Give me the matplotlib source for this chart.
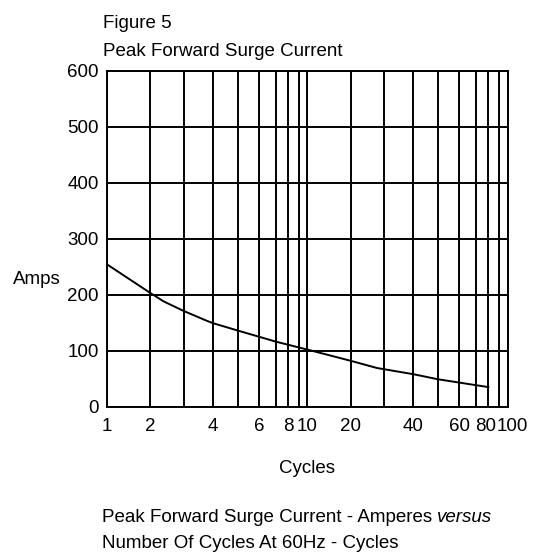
import matplotlib
matplotlib.use("Agg")
import matplotlib.pyplot as plt
import matplotlib.transforms as mtransforms
import numpy as np

plt.rcParams['font.family'] = ['Liberation Sans', 'DejaVu Sans']

# surge curve
cycles = [1, 2, 2.4, 3, 3.8, 4, 5, 6, 7, 10, 20, 28, 40, 50, 80]
amps = [254, 203, 188, 171, 153, 149, 136, 125, 116, 102, 82, 69, 58, 49, 35]

x_major = [1, 2, 4, 6, 8, 10, 20, 40, 60, 80, 100]
x_major_labels = ['1', '2', '4', '6', '8', '10', '20', '40', '60', '80', '100']
x_minor = [3, 5, 7, 9, 30, 50, 70, 90]
y_ticks = [0, 100, 200, 300, 400, 500, 600]

# the printed chart paper is not a true log scale; spacing inside a decade
mant_pts = [1, 2, 3, 4, 5, 6, 7, 8, 9, 10]
frac_pts = [0, 0.216, 0.382, 0.53, 0.652, 0.758, 0.844, 0.904, 0.958, 1.0]


def fwd(v):
    v = np.clip(np.asarray(v, dtype=float), 1e-6, None)
    d = np.floor(np.log10(v) + 1e-12)
    m = v / 10.0 ** d
    return d + np.interp(m, mant_pts, frac_pts)


def inv(u):
    u = np.asarray(u, dtype=float)
    d = np.floor(u + 1e-12)
    f = u - d
    return 10.0 ** d * np.interp(f, frac_pts, mant_pts)


fig = plt.figure(figsize=(5.33, 5.56), dpi=100)
ax = fig.add_axes([0.2008, 0.2685, 0.7515, 0.6047])

ax.set_xscale('function', functions=(fwd, inv))
ax.set_xlim(1, 100)
ax.set_ylim(0, 600)

ax.plot(cycles, amps, color='black', lw=1.4)

ax.set_xticks(x_major)
ax.set_xticklabels(x_major_labels)
ax.set_xticks(x_minor, minor=True)
ax.set_yticks(y_ticks)
ax.grid(True, which='both', color='black', lw=1.4)
ax.set_axisbelow(True)
ax.tick_params(axis='both', which='both', length=0, labelsize=13.5)
ax.tick_params(axis='x', pad=8)
ax.tick_params(axis='y', pad=6)
for s in ax.spines.values():
    s.set_linewidth(1.4)

# crowded labels at the right end sit a bit apart, as printed
labels = ax.get_xticklabels()
shifts = {'80': -3, '100': 5}
for lab in labels:
    dx = shifts.get(lab.get_text(), 0)
    if dx:
        lab.set_transform(lab.get_transform() +
                          mtransforms.ScaledTranslation(dx / 100, 0, fig.dpi_scale_trans))

ax.set_xlabel('Cycles', fontsize=13.5, labelpad=18)

fig.text(13 / 533, 1 - 280 / 556, 'Amps', fontsize=13.5, va='center', ha='left')
fig.text(103 / 533, 1 - 24 / 556, 'Figure 5', fontsize=13.5, va='center', ha='left')
fig.text(103 / 533, 1 - 51 / 556, 'Peak Forward Surge Current', fontsize=13.5,
         va='center', ha='left')

t1 = fig.text(102 / 533, 1 - 517 / 556, 'Peak Forward Surge Current - Amperes ',
              fontsize=13.5, va='center', ha='left')
fig.canvas.draw()
bb = t1.get_window_extent()
fig.text(bb.x1 / fig.bbox.width, 1 - 517 / 556, 'versus', fontsize=13.5,
         style='italic', va='center', ha='left')
fig.text(102 / 533, 1 - 543 / 556, 'Number Of Cycles At 60Hz - Cycles',
         fontsize=13.5, va='center', ha='left')

fig.savefig('out.png', dpi=100)
